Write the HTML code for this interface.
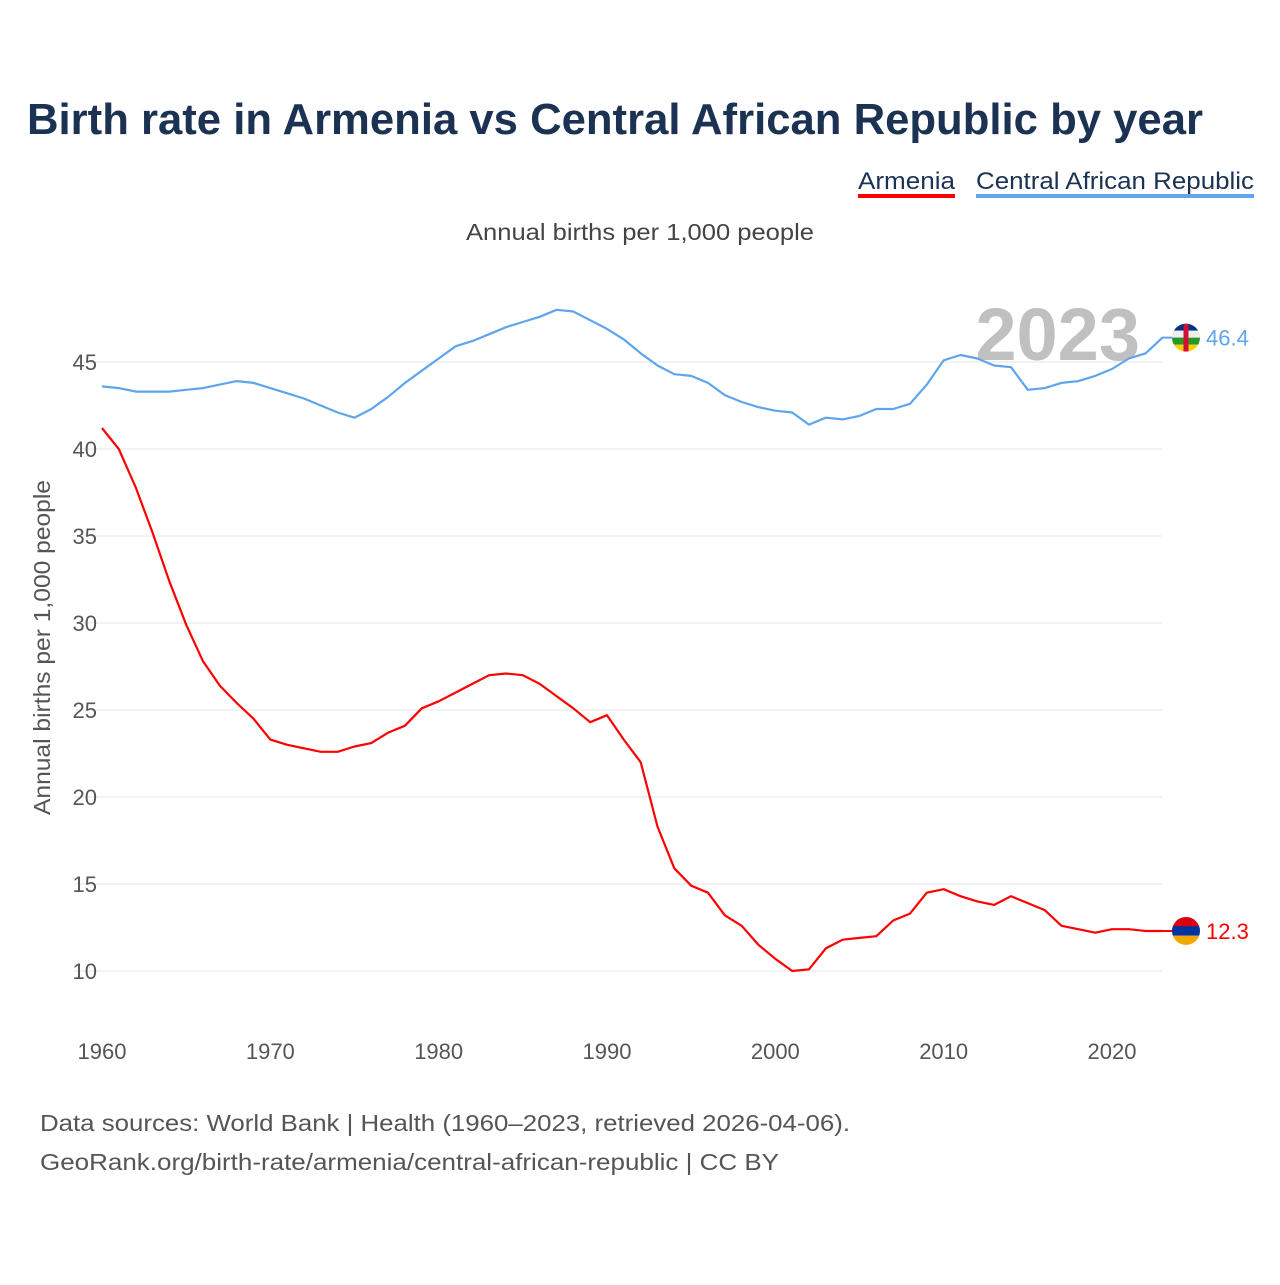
<!DOCTYPE html>
<html><head><meta charset="utf-8"><style>
body{margin:0;background:#fff;width:1280px;height:1280px;overflow:hidden;font-family:"Liberation Sans",sans-serif}
</style></head><body>
<svg id="c" width="1280" height="1280" xmlns="http://www.w3.org/2000/svg">
<text x="27" y="134" font-size="44" font-weight="bold" fill="#1b3252" textLength="1176" lengthAdjust="spacingAndGlyphs">Birth rate in Armenia vs Central African Republic by year</text>
<g>
<text x="858" y="189" font-size="24" fill="#1b3252" textLength="97" lengthAdjust="spacingAndGlyphs">Armenia</text>
<rect x="858" y="194" width="97" height="4" fill="#ff0000"/>
<text x="976" y="189" font-size="24" fill="#1b3252" textLength="278" lengthAdjust="spacingAndGlyphs">Central African Republic</text>
<rect x="976" y="194" width="278" height="4" fill="#5ea5ec"/>
</g>
<text x="466" y="240" font-size="23" fill="#444" textLength="348" lengthAdjust="spacingAndGlyphs">Annual births per 1,000 people</text>
<text x="1140" y="360" font-size="74" font-weight="bold" fill="#c0c0c0" text-anchor="end">2023</text>
<text transform="translate(50,815) rotate(-90)" font-size="23" fill="#555" textLength="335" lengthAdjust="spacingAndGlyphs">Annual births per 1,000 people</text>
<g id="grid"></g><g id="lines"></g><g id="ends"></g>
<text x="40" y="1131" font-size="23" fill="#555" textLength="810" lengthAdjust="spacingAndGlyphs">Data sources: World Bank | Health (1960–2023, retrieved 2026-04-06).</text>
<text x="40" y="1170" font-size="23" fill="#555" textLength="739" lengthAdjust="spacingAndGlyphs">GeoRank.org/birth-rate/armenia/central-african-republic | CC BY</text>
</svg>
<script>
const years=[];for(let y=1960;y<=2023;y++)years.push(y);
const armenia=[41.2,40.0,37.8,35.2,32.4,29.9,27.8,26.4,25.4,24.5,23.3,23.0,22.8,22.6,22.6,22.9,23.1,23.7,24.1,25.1,25.5,26.0,26.5,27.0,27.1,27.0,26.5,25.8,25.1,24.3,24.7,23.3,22.0,18.3,15.9,14.9,14.5,13.2,12.6,11.5,10.7,10.0,10.1,11.3,11.8,11.9,12.0,12.9,13.3,14.5,14.7,14.3,14.0,13.8,14.3,13.9,13.5,12.6,12.4,12.2,12.4,12.4,12.3,12.3];
const car=[43.6,43.5,43.3,43.3,43.3,43.4,43.5,43.7,43.9,43.8,43.5,43.2,42.9,42.5,42.1,41.8,42.3,43.0,43.8,44.5,45.2,45.9,46.2,46.6,47.0,47.3,47.6,48.0,47.9,47.4,46.9,46.3,45.5,44.8,44.3,44.2,43.8,43.1,42.7,42.4,42.2,42.1,41.4,41.8,41.7,41.9,42.3,42.3,42.6,43.7,45.1,45.4,45.2,44.8,44.7,43.4,43.5,43.8,43.9,44.2,44.6,45.2,45.5,46.4];
const yTicks=[10,15,20,25,30,35,40,45];
const xTicks=[1960,1970,1980,1990,2000,2010,2020];
const X=y=>102+(y-1960)*1010/60;
const Y=v=>971-(v-10)*609/35;
const NS="http://www.w3.org/2000/svg";
function mk(p,t,a){const e=document.createElementNS(NS,t);for(const k in a)e.setAttribute(k,a[k]);p.appendChild(e);return e;}
const g=document.getElementById('grid');
yTicks.forEach(v=>{
 const l=mk(g,'line',{x1:75,x2:1162,y1:Y(v),y2:Y(v),stroke:'#e6e6e6','stroke-width':1});
 
 
 const t=mk(g,'text',{x:97,y:Y(v)+8,'font-size':22,fill:'#555','text-anchor':'end'});t.textContent=v;
 
 
});
xTicks.forEach(v=>{
 const t=mk(g,'text',{x:X(v),y:1059,'font-size':22,fill:'#555','text-anchor':'middle'});t.textContent=v;
 
 
});
const L=document.getElementById('lines');
function line(arr,col,name){
 const d=arr.map((v,i)=>(i?'L':'M')+X(years[i]).toFixed(1)+','+Y(v).toFixed(1)).join('');
 const p=mk(L,'path',{d:d,fill:'none',stroke:col,'stroke-width':2.2,'stroke-linejoin':'round'});
 
 
}
line(car,'#5ea5ec','car-line');
line(armenia,'#ff0000','armenia-line');
const E=document.getElementById('ends');
const cx=1186;
let ya=Y(armenia[armenia.length-1]);
mk(E,'line',{x1:1162,x2:cx,y1:ya,y2:ya,stroke:'#ff0000','stroke-width':2});
const fa=mk(E,'g',{});


mk(fa,'clipPath',{id:'ca'});mk(fa.lastChild,'circle',{cx:cx,cy:ya,r:14});
mk(fa,'rect',{x:cx-14,y:ya-14,width:28,height:10,fill:'#d90012','clip-path':'url(#ca)'});
mk(fa,'rect',{x:cx-14,y:ya-4.7,width:28,height:9.4,fill:'#0033a0','clip-path':'url(#ca)'});
mk(fa,'rect',{x:cx-14,y:ya+4.7,width:28,height:10,fill:'#f2a800','clip-path':'url(#ca)'});
let ta=mk(E,'text',{x:1206,y:ya+8,'font-size':22,fill:'#ff0000'});ta.textContent=armenia[armenia.length-1].toFixed(1);


let yc=Y(car[car.length-1]);
mk(E,'line',{x1:1162,x2:cx,y1:yc,y2:yc,stroke:'#5ea5ec','stroke-width':2});
const fc=mk(E,'g',{});


mk(fc,'clipPath',{id:'cc'});mk(fc.lastChild,'circle',{cx:cx,cy:yc,r:14});
const cols=['#003082','#eeeeee','#289728','#ffce00'];
cols.forEach((c,i)=>mk(fc,'rect',{x:cx-14,y:yc-14+i*7,width:28,height:7,fill:c,'clip-path':'url(#cc)'}));
mk(fc,'rect',{x:cx-2.5,y:yc-14,width:5,height:28,fill:'#d21034','clip-path':'url(#cc)'});
let tc=mk(E,'text',{x:1206,y:yc+8,'font-size':22,fill:'#5ea5ec'});tc.textContent=car[car.length-1].toFixed(1);


</script>
</body></html>
